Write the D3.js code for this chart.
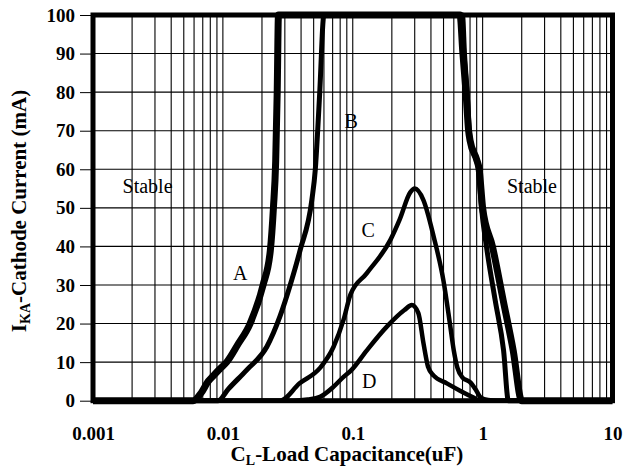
<!DOCTYPE html>
<html>
<head>
<meta charset="utf-8">
<script src="https://cdn.jsdelivr.net/npm/d3@7"></script>
<style>
  html, body { margin: 0; padding: 0; background: #fff; }
  svg text { font-family: "Liberation Serif", "Times New Roman", serif; fill: #000; }
  svg text.bold { font-weight: bold; }
</style>
</head>
<body>
<svg id="chart" width="625" height="469"></svg>
<script>
// ---- data ----
const xTickValues = [0.001, 0.01, 0.1, 1, 10];
const xTickLabels = ["0.001", "0.01", "0.1", "1", "10"];
const yTickValues = [0, 10, 20, 30, 40, 50, 60, 70, 80, 90, 100];

// [capacitance uF, cathode current mA]
const curveA = [[0.001,0],[0.0059,0],[0.0068,2],[0.0077,5],[0.0084,6.4],[0.0095,8.3],[0.0107,10],[0.013,14.5],[0.0162,20],[0.0204,30],[0.0232,39],[0.0245,50],[0.0255,62],[0.0262,80],[0.0268,100],
  [0.67,100],[0.705,90],[0.745,80],[0.78,70],[0.80,67.5],[0.90,62.5],[0.94,60],[1.0,50],[1.19,40],[1.44,26],[1.72,13],[2.0,0],[10,0]];
const curveB = [[0.001,0],[0.0092,0],[0.011,3],[0.0153,8],[0.0218,14],[0.0276,22],[0.033,30],[0.0393,39],[0.0484,52],[0.0515,60],[0.0537,70],[0.0557,80],[0.06,100],
  [0.70,100],[0.725,90],[0.76,80],[0.79,70],[0.81,67],[0.89,62.5],[0.93,60],[0.98,50],[1.07,40],[1.25,26],[1.45,13],[1.58,0],[10,0]];
const curveC = [[0.001,0],[0.0276,0],[0.039,4.5],[0.056,8.5],[0.0712,14],[0.085,21],[0.096,27.5],[0.128,33],[0.195,41.7],[0.23,47],[0.277,54],[0.30,55],[0.35,52],[0.42,42.5],[0.50,31],[0.56,20],[0.60,13],[0.64,8.5],[0.70,6],[0.80,4.8],[0.88,3],[0.97,0.8],[1.1,0.2],[1.3,0],[10,0]];
const curveD = [[0.001,0],[0.035,0],[0.045,0.3],[0.056,1],[0.071,3.6],[0.085,6.2],[0.098,8],[0.128,13],[0.183,19.2],[0.25,23.5],[0.285,24.8],[0.32,22.7],[0.35,15],[0.38,8.8],[0.42,6.5],[0.53,4.5],[0.67,2.6],[0.85,0.8],[0.95,0],[10,0]];

const curveNames = ["A", "B", "C", "D"];
const regionLabels = ["Stable", "Stable"];

// ---- layout ----
const svg = d3.select("#chart");
const pLeft = 93, pRight = 612.5, pTop = 15, pBottom = 400.7;

const x = d3.scaleLog().domain([0.001, 10]).range([pLeft, pRight]);
const y = d3.scaleLinear().domain([0, 100]).range([pBottom, pTop]);

// minor + major vertical gridlines
const vGrid = [];
for (let d = -3; d < 1; d++) {
  for (let m = 1; m <= 9; m++) vGrid.push(m * Math.pow(10, d));
}
vGrid.push(10);

svg.append("g").selectAll("line").data(vGrid).join("line")
  .attr("x1", d => x(d)).attr("x2", d => x(d))
  .attr("y1", pTop).attr("y2", pBottom)
  .attr("stroke", "#000").attr("stroke-width", 1.1);

svg.append("g").selectAll("line").data(yTickValues).join("line")
  .attr("x1", pLeft).attr("x2", pRight)
  .attr("y1", d => y(d)).attr("y2", d => y(d))
  .attr("stroke", "#000").attr("stroke-width", 1.1);

// y axis (ticks outward + labels)
const yAxis = d3.axisLeft(y).tickValues(yTickValues).tickSize(13).tickPadding(5).tickFormat(d3.format("d"));
const gy = svg.append("g").attr("transform", `translate(${pLeft},0)`).call(yAxis);
gy.attr("font-family", null);
gy.select(".domain").remove();
gy.selectAll(".tick line").attr("stroke", "#000").attr("stroke-width", 1);
gy.selectAll(".tick text")
  .attr("class", "bold")
  .style("font-size", "19px").attr("fill", "#000")
  .attr("x", -18);

// x axis labels
const xAxis = d3.axisBottom(x).tickValues(xTickValues).tickSize(0).tickPadding(0)
  .tickFormat((d, i) => xTickLabels[i]);
const gx = svg.append("g").attr("transform", `translate(0,${pBottom})`).call(xAxis);
gx.attr("font-family", null);
gx.select(".domain").remove();
gx.selectAll(".tick text")
  .attr("class", "bold")
  .style("font-size", "19px").attr("fill", "#000")
  .attr("dy", null).attr("y", 39);

// curves
const line = d3.line().x(d => x(d[0])).y(d => y(d[1])).curve(d3.curveMonotoneX);
const curves = [
  { data: curveA, w: 7 },
  { data: curveB, w: 5 },
  { data: curveC, w: 4.5 },
  { data: curveD, w: 4.5 }
];
svg.append("g").selectAll("path").data(curves).join("path")
  .attr("d", d => line(d.data))
  .attr("fill", "none").attr("stroke", "#000")
  .attr("stroke-width", d => d.w).attr("stroke-linejoin", "round");

// frame
svg.append("rect")
  .attr("x", pLeft).attr("y", pTop)
  .attr("width", pRight - pLeft).attr("height", pBottom - pTop)
  .attr("fill", "none").attr("stroke", "#000").attr("stroke-width", 5);

// in-plot labels
const labelPos = [
  { t: curveNames[0], c: 0.0136, i: 31.3 },
  { t: curveNames[1], c: 0.0974, i: 70.7 },
  { t: curveNames[2], c: 0.1317, i: 42.4 },
  { t: curveNames[3], c: 0.134, i: 3.3 },
  { t: regionLabels[0], c: 0.00263, i: 53.8 },
  { t: regionLabels[1], c: 2.4, i: 53.8 }
];
svg.append("g").selectAll("text").data(labelPos).join("text")
  .attr("x", d => x(d.c)).attr("y", d => y(d.i))
  .attr("text-anchor", "middle")
  .style("font-size", "20px")
  .text(d => d.t);

// axis titles
const xt = svg.append("text")
  .attr("class", "bold")
  .attr("x", 347).attr("y", 461)
  .attr("text-anchor", "middle")
  .style("font-size", "21px");
xt.append("tspan").text("C");
xt.append("tspan").text("L").attr("dy", 4).style("font-size", "14px");
xt.append("tspan").text("-Load Capacitance(uF)").attr("dy", -4);

const yt = svg.append("text")
  .attr("class", "bold")
  .attr("transform", "translate(26,211) rotate(-90)")
  .attr("text-anchor", "middle")
  .style("font-size", "21px");
yt.append("tspan").text("I");
yt.append("tspan").text("KA").attr("dy", 4).style("font-size", "14px");
yt.append("tspan").text("-Cathode Current (mA)").attr("dy", -4);
</script>
</body>
</html>
